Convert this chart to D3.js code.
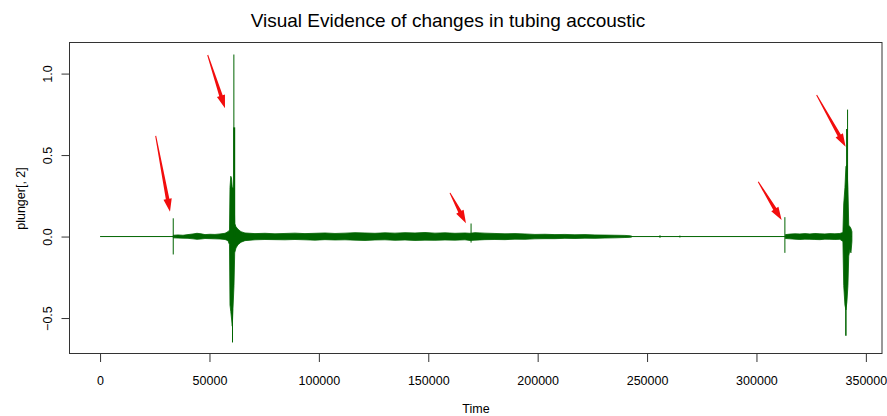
<!DOCTYPE html>
<html>
<head>
<meta charset="utf-8">
<script src="https://cdn.jsdelivr.net/npm/d3@7"></script>
<style>
  body { margin: 0; background: #fff; }
  svg { display: block; }
  text { font-family: "Liberation Sans", Arial, sans-serif; fill: #000; }
</style>
</head>
<body>
<svg id="chart" width="887" height="416"></svg>
<script>
// ---- text ----
const chartTitle = "Visual Evidence of changes in tubing accoustic";
const xLabel = "Time";
const yLabel = "plunger[, 2]";

// ---- axis ticks ----
const xTicks = [0, 50000, 100000, 150000, 200000, 250000, 300000, 350000];
const yTicks = [-0.5, 0.0, 0.5, 1.0];

// ---- series: sample index range ----
const seriesStart = 1;
const seriesEnd = 343630;

// ---- series: noise envelope (upper / lower value over time); null = quiet gap ----
const envTime = [
  33470, 35610, 37900, 40180, 42470, 44300, 46130, 47950, 50240, 52520, 54810, 57100, 58470, 59150,
  59380, 59740, 60060, 60430, 60750, 61210, 61530, 62120, 63030, 64400, 66230,
  70800, 75370, 79940, 84510, 89080, 93650, 98220, 102790, 107360, 111930, 116500, 121070,
  125640, 130210, 134780, 139350, 143920, 148490, 153060, 157630, 162200, 166770, 169060,
  171340, 175910, 180480, 185050, 189620, 194190, 198760, 203330, 207900, 212470, 217040,
  221610, 226180, 230750, 235320, 239890, 242170, 243090,
  280000,
  313240, 315300, 317570, 319860, 322140, 324430, 326710, 329000, 331280, 333570, 335850, 338140, 339510,
  339880, 340430, 340890, 341340, 341800, 342170, 342720, 343180, 343630
];
const envHigh = [
  0.008, 0.010, 0.008, 0.012, 0.016, 0.020, 0.017, 0.012, 0.014, 0.013, 0.016, 0.020, 0.030, 0.040,
  0.30, 0.37, 0.36, 0.30, 0.30, 0.29, 0.08, 0.06, 0.045, 0.030, 0.022,
  0.018, 0.020, 0.017, 0.019, 0.021, 0.018, 0.020, 0.022, 0.019, 0.021, 0.024, 0.022,
  0.020, 0.023, 0.021, 0.024, 0.022, 0.025, 0.021, 0.023, 0.020, 0.022, 0.020,
  0.024, 0.021, 0.019, 0.017, 0.018, 0.016, 0.013, 0.014, 0.012, 0.013, 0.011,
  0.012, 0.010, 0.009, 0.008, 0.007, 0.005, 0.002,
  null,
  0.012, 0.015, 0.017, 0.016, 0.018, 0.016, 0.019, 0.017, 0.016, 0.018, 0.017, 0.019, 0.025,
  0.20, 0.30, 0.43, 0.44, 0.29, 0.07, 0.06, 0.05, 0.03
];
const envLow = [
  -0.008, -0.009, -0.010, -0.011, -0.014, -0.017, -0.015, -0.012, -0.013, -0.014, -0.015, -0.018, -0.025, -0.050,
  -0.42, -0.46, -0.50, -0.55, -0.44, -0.30, -0.10, -0.07, -0.050, -0.035, -0.025,
  -0.020, -0.018, -0.019, -0.020, -0.018, -0.020, -0.022, -0.019, -0.021, -0.020, -0.022, -0.024,
  -0.021, -0.020, -0.023, -0.021, -0.024, -0.022, -0.023, -0.021, -0.022, -0.020, -0.024,
  -0.022, -0.019, -0.018, -0.019, -0.016, -0.017, -0.014, -0.013, -0.013, -0.011, -0.012,
  -0.010, -0.011, -0.009, -0.008, -0.006, -0.005, -0.002,
  null,
  -0.012, -0.014, -0.016, -0.018, -0.016, -0.017, -0.018, -0.019, -0.016, -0.017, -0.018, -0.017, -0.030,
  -0.30, -0.42, -0.45, -0.40, -0.30, -0.12, -0.08, -0.10, -0.03
];

// ---- series: isolated spikes (single-sample excursions) ----
const spikeTime = [33440, 60530, 61150, 61300, 169560, 255900, 265000, 312990, 340860, 341300, 341640];
const spikeHigh = [0.112, 0.0, 1.117, 0.67, 0.080, 0.008, 0.006, 0.119, 0.0, 0.66, 0.779];
const spikeLow  = [-0.110, -0.65, 0.0, 0.0, -0.037, -0.008, -0.006, -0.100, -0.608, 0.0, 0.0];
const spikeWidth = [1, 1, 1, 2, 1, 1, 1, 1, 1.5, 1.5, 1];

// ---- annotation arrows (tail -> tip, in data units) ----
const arrowTailT = [25420, 49190, 159920, 300810, 327500];
const arrowTailV = [0.618, 1.114, 0.268, 0.336, 0.868];
const arrowTipT  = [31960, 57090, 167230, 311500, 340750];
const arrowTipV  = [0.152, 0.788, 0.082, 0.101, 0.551];

// ---- layout ----
const plot = { left: 70, right: 882, top: 43, bottom: 354 };
const titleX = 448;
const lineColor = "#006400";
const arrowColor = "#f20d0d";
const font = '"Liberation Sans", Arial, sans-serif';

const svg = d3.select("#chart");

// R-style 4% padding on each side of the data range
function padded(lo, hi) {
  const r = hi - lo;
  return [lo - 0.04 * r, hi + 0.04 * r];
}

const allVals = envHigh.concat(envLow, spikeHigh, spikeLow).filter(v => v != null);
const x = d3.scaleLinear().domain(padded(seriesStart, seriesEnd)).range([plot.left, plot.right]);
const y = d3.scaleLinear().domain(padded(d3.min(allVals), d3.max(allVals))).range([plot.bottom, plot.top]);

const g = svg.append("g");

// zero-level trace across the whole record
g.append("line")
  .attr("x1", x(seriesStart)).attr("x2", x(seriesEnd))
  .attr("y1", y(0)).attr("y2", y(0))
  .attr("stroke", lineColor).attr("stroke-width", 1);

// noise envelope
const env = envTime.map((t, i) => ({ t, hi: envHigh[i], lo: envLow[i] }));
const area = d3.area()
  .defined(d => d.hi != null)
  .x(d => x(d.t))
  .y0(d => y(d.lo))
  .y1(d => y(d.hi));
g.append("path")
  .attr("d", area(env))
  .attr("fill", lineColor)
  .attr("stroke", lineColor)
  .attr("stroke-width", 0.8)
  .attr("stroke-linejoin", "round");

// spikes
g.selectAll("line.spike")
  .data(spikeTime.map((t, i) => ({ t, hi: spikeHigh[i], lo: spikeLow[i], w: spikeWidth[i] })))
  .join("line")
  .attr("class", "spike")
  .attr("x1", d => x(d.t)).attr("x2", d => x(d.t))
  .attr("y1", d => y(d.hi)).attr("y2", d => y(d.lo))
  .attr("stroke", lineColor)
  .attr("stroke-width", d => d.w);

// plot frame
svg.append("rect")
  .attr("x", plot.left - 0.5).attr("y", plot.top - 0.5)
  .attr("width", plot.right - plot.left + 0.5)
  .attr("height", plot.bottom - plot.top)
  .attr("fill", "none").attr("stroke", "#333").attr("stroke-width", 1);

// x axis
const xAxis = svg.append("g")
  .attr("transform", `translate(0,${plot.bottom})`)
  .call(d3.axisBottom(x).tickValues(xTicks).tickFormat(d3.format("d")).tickSize(8).tickPadding(14));
xAxis.select(".domain").remove();
xAxis.selectAll(".tick line").attr("stroke", "#333");
xAxis.selectAll(".tick text").attr("font-size", 12.5).attr("font-family", font);

// y axis (labels rotated, reading upward)
const yAxis = svg.append("g")
  .attr("transform", `translate(${plot.left - 0.5},0)`)
  .call(d3.axisLeft(y).tickValues(yTicks).tickFormat(d3.format(".1f")).tickSize(8));
yAxis.select(".domain").remove();
yAxis.selectAll(".tick line").attr("stroke", "#333");
yAxis.selectAll(".tick text")
  .attr("font-size", 12.5)
  .attr("font-family", font)
  .attr("x", 0).attr("dy", 0)
  .attr("text-anchor", "middle")
  .attr("transform", "translate(-18,0) rotate(-90)");

// titles
svg.append("text")
  .attr("x", titleX).attr("y", 27)
  .attr("text-anchor", "middle").attr("font-size", 19)
  .text(chartTitle);
svg.append("text")
  .attr("x", (plot.left + plot.right) / 2).attr("y", 413)
  .attr("text-anchor", "middle").attr("font-size", 12.5)
  .text(xLabel);
svg.append("text")
  .attr("transform", `translate(25,${(plot.top + plot.bottom) / 2}) rotate(-90)`)
  .attr("text-anchor", "middle").attr("font-size", 12.5)
  .text(yLabel);

// annotation arrows: tapered shaft with a solid head
function arrowPath(x0, y0, x1, y1) {
  const dx = x1 - x0, dy = y1 - y0;
  const L = Math.hypot(dx, dy);
  const ux = dx / L, uy = dy / L, nx = -uy, ny = ux;
  const headLen = 13, headHalf = 4.2, tailHalf = 0.5, neckHalf = 1.8;
  const bx = x1 - ux * headLen, by = y1 - uy * headLen;
  const pts = [
    [x0 + nx * tailHalf, y0 + ny * tailHalf],
    [bx + nx * neckHalf, by + ny * neckHalf],
    [bx + nx * headHalf, by + ny * headHalf],
    [x1, y1],
    [bx - nx * headHalf, by - ny * headHalf],
    [bx - nx * neckHalf, by - ny * neckHalf],
    [x0 - nx * tailHalf, y0 - ny * tailHalf]
  ];
  return "M" + pts.map(p => p.join(",")).join("L") + "Z";
}
svg.selectAll("path.arrow")
  .data(arrowTailT.map((t, i) => ({ t0: t, v0: arrowTailV[i], t1: arrowTipT[i], v1: arrowTipV[i] })))
  .join("path")
  .attr("class", "arrow")
  .attr("d", d => arrowPath(x(d.t0), y(d.v0), x(d.t1), y(d.v1)))
  .attr("fill", arrowColor);
</script>
</body>
</html>
